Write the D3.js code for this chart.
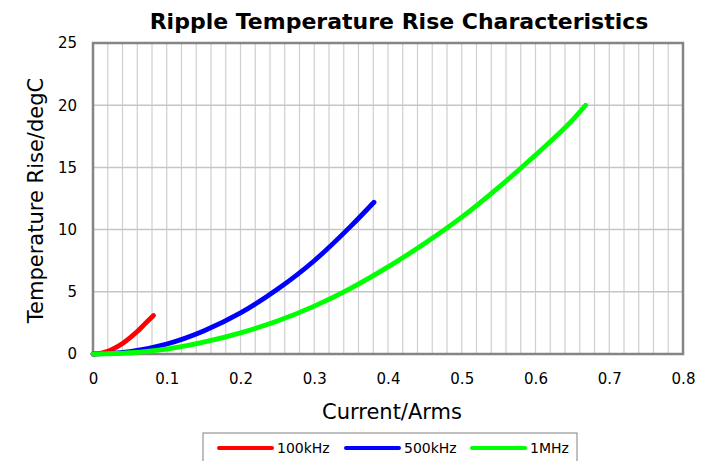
<!DOCTYPE html>
<html>
<head>
<meta charset="utf-8">
<script src="https://cdn.jsdelivr.net/npm/d3@7"></script>
<style>
  body { margin: 0; background: #fff; }
  text { font-family: "DejaVu Sans", Verdana, sans-serif; fill: #000; }
</style>
</head>
<body>
<div id="chart"></div>
<script>
// values
const current100k = [0, 0.01, 0.02, 0.03, 0.04, 0.05, 0.06, 0.07, 0.082];
const rise100k    = [0, 0.06, 0.22, 0.5, 0.85, 1.3, 1.8, 2.4, 3.1];

const current500k = [0, 0.05, 0.1, 0.15, 0.2, 0.25, 0.3, 0.35, 0.381];
const rise500k    = [0, 0.2, 0.8, 1.85, 3.3, 5.2, 7.5, 10.3, 12.2];

const current1M = [0, 0.05, 0.1, 0.15, 0.2, 0.25, 0.3, 0.35, 0.4, 0.45, 0.5, 0.55, 0.6, 0.65, 0.668];
const rise1M    = [0, 0.1, 0.4, 0.95, 1.7, 2.65, 3.85, 5.3, 7.0, 8.9, 11.0, 13.4, 16.0, 18.8, 20.0];

const seriesNames  = ['100kHz', '500kHz', '1MHz'];
const seriesColors = ['#ff0000', '#0000ff', '#00ff00'];

const xTicks = [0, 0.1, 0.2, 0.3, 0.4, 0.5, 0.6, 0.7, 0.8];
const yTicks = [0, 5, 10, 15, 20, 25];

const width = 713, height = 461;
const margin = { top: 43, right: 30, bottom: 107, left: 93 };
const innerWidth = width - margin.left - margin.right;
const innerHeight = height - margin.top - margin.bottom;

const svg = d3.select('#chart').append('svg')
  .attr('width', width)
  .attr('height', height);

const g = svg.append('g').attr('transform', `translate(${margin.left},${margin.top})`);

const x = d3.scaleLinear().domain([0, 0.8]).range([0, innerWidth]);
const y = d3.scaleLinear().domain([0, 25]).range([innerHeight, 0]);

// grid
g.append('g')
  .selectAll('line')
  .data(d3.range(1, 40).map(i => i * 0.02))
  .enter().append('line')
  .attr('x1', d => x(d)).attr('x2', d => x(d))
  .attr('y1', 0).attr('y2', innerHeight)
  .attr('stroke', '#cfcfcf')
  .attr('stroke-width', 1.2);

g.append('g')
  .selectAll('line')
  .data(yTicks.slice(1, -1))
  .enter().append('line')
  .attr('x1', 0).attr('x2', innerWidth)
  .attr('y1', d => y(d)).attr('y2', d => y(d))
  .attr('stroke', '#c6c6c6')
  .attr('stroke-width', 1.5);

// frame
g.append('rect')
  .attr('width', innerWidth)
  .attr('height', innerHeight)
  .attr('fill', 'none')
  .attr('stroke', '#858585')
  .attr('stroke-width', 2.5);

// tick labels
const xAxis = g.append('g')
  .attr('transform', `translate(0,${innerHeight})`)
  .call(d3.axisBottom(x).tickValues(xTicks).tickSize(0).tickPadding(19)
    .tickFormat(d => d === 0 ? '0' : d3.format('.1f')(d)));
xAxis.select('.domain').remove();
xAxis.selectAll('text').style('font-size', '15px');

const yAxis = g.append('g')
  .call(d3.axisLeft(y).tickValues(yTicks).tickSize(0).tickPadding(16));
yAxis.select('.domain').remove();
yAxis.selectAll('text').style('font-size', '15px');

// series
const series = [
  { xs: current100k, ys: rise100k },
  { xs: current500k, ys: rise500k },
  { xs: current1M, ys: rise1M }
];

const line = d3.line()
  .x(d => x(d[0]))
  .y(d => y(d[1]))
  .curve(d3.curveMonotoneX);

series.forEach((s, i) => {
  g.append('path')
    .datum(s.xs.map((v, j) => [v, s.ys[j]]))
    .attr('fill', 'none')
    .attr('stroke', seriesColors[i])
    .attr('stroke-width', 4.8)
    .attr('stroke-linecap', 'round')
    .attr('stroke-linejoin', 'round')
    .attr('d', line);
});

// titles
svg.append('text')
  .attr('x', 399).attr('y', 29)
  .attr('text-anchor', 'middle')
  .style('font-size', '22px')
  .style('font-weight', 'bold')
  .text('Ripple Temperature Rise Characteristics');

svg.append('text')
  .attr('x', 392).attr('y', 419)
  .attr('text-anchor', 'middle')
  .style('font-size', '21px')
  .text('Current/Arms');

svg.append('text')
  .attr('transform', `translate(43,${margin.top + innerHeight / 2 + 2}) rotate(-90)`)
  .attr('text-anchor', 'middle')
  .style('font-size', '21px')
  .text('Temperature Rise/degC');

// legend
const legend = svg.append('g');
legend.append('rect')
  .attr('x', 203).attr('y', 433)
  .attr('width', 374).attr('height', 40)
  .attr('fill', '#fff')
  .attr('stroke', '#808080')
  .attr('stroke-width', 1);

const legendX = [219, 346, 472];
seriesNames.forEach((name, i) => {
  legend.append('line')
    .attr('x1', legendX[i]).attr('x2', legendX[i] + 53)
    .attr('y1', 448).attr('y2', 448)
    .attr('stroke', seriesColors[i])
    .attr('stroke-width', 4)
    .attr('stroke-linecap', 'round');
  legend.append('text')
    .attr('x', legendX[i] + 58).attr('y', 453)
    .style('font-size', '14px')
    .text(name);
});
</script>
</body>
</html>
